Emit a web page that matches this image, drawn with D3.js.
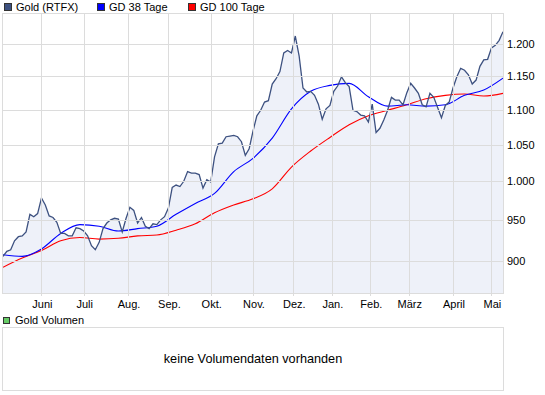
<!DOCTYPE html>
<html>
<head>
<meta charset="utf-8">
<script src="https://cdn.jsdelivr.net/npm/d3@7"></script>
<style>
  body { margin: 0; background: #fff; }
  svg { display: block; font-family: "Liberation Sans", Arial, sans-serif; }
</style>
</head>
<body>
<div class="chart"></div>
<script>
// trading calendar (weekdays without exchange holidays)
const firstDay = "2009-05-04";
const lastDay = "2010-05-11";
const holidays = ["2009-12-24", "2009-12-25", "2009-12-31", "2010-01-01", "2010-04-02", "2010-04-05"];
const monthNames = ["Jan.", "Feb.", "März", "April", "Mai", "Juni", "Juli", "Aug.", "Sep.", "Okt.", "Nov.", "Dez."];

// Gold (RTFX), one value every second trading day
const price = [
  905, 911, 913, 924, 929, 930, 935, 957, 954, 958,
  978, 969, 955, 953, 947, 933, 933, 930, 930, 940,
  939, 936, 930, 918, 913, 922, 939, 946, 950, 952,
  951, 935, 952, 966, 962, 946, 953, 942, 939, 945,
  944, 950, 954, 965, 992, 995, 993, 1000, 1013, 1011,
  1011, 1009, 991, 1002, 999, 1033, 1051, 1052, 1061, 1062,
  1063, 1061, 1054, 1035, 1044, 1069, 1091, 1099, 1111, 1113,
  1138, 1146, 1157, 1186, 1190, 1186, 1213, 1181, 1132, 1126,
  1127, 1121, 1108, 1086, 1101, 1106, 1127, 1135, 1149, 1140,
  1134, 1099, 1097, 1092, 1091, 1082, 1108, 1067, 1073, 1085,
  1099, 1118, 1114, 1114, 1107, 1125, 1139, 1132, 1124, 1107,
  1104, 1124, 1118, 1103, 1088, 1106, 1111, 1132, 1149, 1162,
  1159, 1152, 1138, 1144, 1165, 1175, 1176, 1194, 1198, 1206,
  1220
];

// moving averages, one value every tenth trading day
const gd38 = [
  907, 905, 914, 933, 944, 942, 936, 939, 942, 957,
  971, 984, 1013, 1031, 1059, 1101, 1127, 1136, 1139, 1119,
  1105, 1107, 1105, 1107, 1121, 1129, 1147
];
const gd100 = [
  892, 903, 912, 924, 928, 926, 927, 930, 931, 937,
  945, 959, 969, 977, 990, 1019, 1041, 1060, 1078, 1091,
  1099, 1107, 1116, 1121, 1123, 1120, 1124
];

const yTicks = [900, 950, 1000, 1050, 1100, 1150, 1200];

const parse = d3.utcParse("%Y-%m-%d");
const fmtDay = d3.utcFormat("%Y-%m-%d");
const days = d3.utcDay
  .range(parse(firstDay), d3.utcDay.offset(parse(lastDay), 1))
  .filter(d => d.getUTCDay() % 6 !== 0 && !holidays.includes(fmtDay(d)));
const monthTicks = days
  .map((d, i) => i)
  .filter(i => i > 0 && days[i].getUTCMonth() !== days[i - 1].getUTCMonth());

const de = d3.formatLocale({ decimal: ",", thousands: ".", grouping: [3], currency: ["", " €"] });
const fmt = de.format(",d");

const pLeft = 3, pRight = 503, pTop = 14, pBottom = 293;

const x = d3.scaleLinear().domain([0, days.length - 1]).range([pLeft, pRight]);
const y = d3.scaleLog().domain([862, 1249]).range([pBottom, pTop]);

const svg = d3
  .select(".chart")
  .append("svg")
  .attr("width", 545)
  .attr("height", 395);

// legend
const legend = [
  { name: "Gold (RTFX)", color: "#3d5180", x: 4 },
  { name: "GD 38 Tage", color: "#0000ff", x: 97 },
  { name: "GD 100 Tage", color: "#ff0000", x: 188 }
];
const lg = svg.selectAll("g.legend").data(legend).enter().append("g").attr("class", "legend");
lg.append("rect")
  .attr("x", d => d.x + 0.5).attr("y", 3.5).attr("width", 7).attr("height", 7)
  .attr("fill", d => d.color).attr("stroke", "#333");
lg.append("text")
  .attr("x", d => d.x + 12).attr("y", 11)
  .attr("font-size", 11).text(d => d.name);

svg.append("clipPath").attr("id", "plot")
  .append("rect").attr("x", pLeft).attr("y", pTop).attr("width", pRight - pLeft).attr("height", pBottom - pTop);

const plot = svg.append("g").attr("clip-path", "url(#plot)");

// area under the price line
plot.append("path")
  .datum(price)
  .attr("fill", "#eef1f9")
  .attr("d", d3.area().x((d, i) => x(i * 2)).y0(pBottom).y1(d => y(d)));

// grid
const grid = svg.append("g").attr("stroke", "#dcdcdc").attr("shape-rendering", "crispEdges");
grid.selectAll("line.h").data(yTicks).enter().append("line")
  .attr("x1", pLeft).attr("x2", pRight)
  .attr("y1", d => Math.round(y(d)) + 0.5).attr("y2", d => Math.round(y(d)) + 0.5);
grid.selectAll("line.v").data(monthTicks).enter().append("line")
  .attr("x1", d => Math.round(x(d)) + 0.5).attr("x2", d => Math.round(x(d)) + 0.5)
  .attr("y1", pTop).attr("y2", pBottom + 3);
grid.append("rect")
  .attr("x", pLeft - 0.5).attr("y", pTop - 0.5)
  .attr("width", pRight - pLeft + 1).attr("height", pBottom - pTop + 1)
  .attr("fill", "none");

// lines
const line = step => d3.line().x((d, i) => x(i * step)).y(d => y(d));
const smooth = step => line(step).curve(d3.curveMonotoneX);
plot.append("path").datum(gd100)
  .attr("fill", "none").attr("stroke", "#ff0000").attr("stroke-width", 1.1).attr("d", smooth(10));
plot.append("path").datum(gd38)
  .attr("fill", "none").attr("stroke", "#0000ff").attr("stroke-width", 1.1).attr("d", smooth(10));
plot.append("path").datum(price)
  .attr("fill", "none").attr("stroke", "#3d5180").attr("stroke-width", 1.3).attr("d", line(2));

// axes labels
svg.selectAll("text.y").data(yTicks).enter().append("text")
  .attr("x", 507).attr("y", d => y(d) + 4)
  .attr("font-size", 11).text(d => fmt(d));
svg.selectAll("text.x").data(monthTicks).enter().append("text")
  .attr("x", d => x(d) + 1).attr("y", 308)
  .attr("text-anchor", "middle").attr("font-size", 11)
  .text(d => monthNames[days[d].getUTCMonth()]);

// volume panel
svg.append("rect")
  .attr("x", 3.5).attr("y", 317.5).attr("width", 6).attr("height", 6)
  .attr("fill", "#66cc66").attr("stroke", "#333");
svg.append("text").attr("x", 15).attr("y", 324).attr("font-size", 11).text("Gold Volumen");
svg.append("rect")
  .attr("x", pLeft - 0.5).attr("y", 327.5).attr("width", pRight - pLeft + 1).attr("height", 63)
  .attr("fill", "#fff").attr("stroke", "#dcdcdc");
svg.append("text")
  .attr("x", 253).attr("y", 363).attr("text-anchor", "middle").attr("font-size", 12.7)
  .text("keine Volumendaten vorhanden");
</script>
</body>
</html>
